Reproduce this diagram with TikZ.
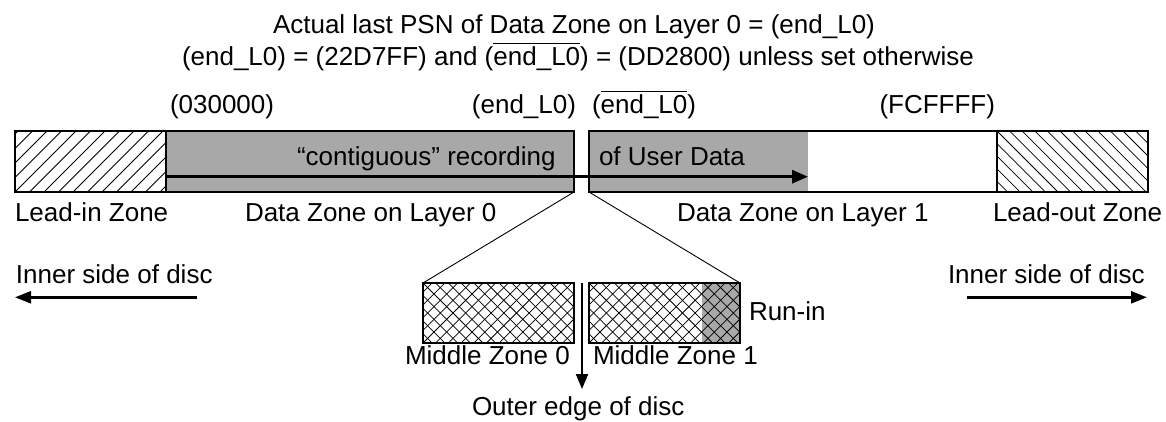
\documentclass[tikz,border=0pt]{standalone}
\usepackage{fontspec}
\setmainfont{Liberation Sans}
\usetikzlibrary{arrows.meta}
\definecolor{zgray}{RGB}{168,168,168}
\newsavebox\ovlbox
\newcommand\ovl[1]{\sbox\ovlbox{#1}\rlap{\rule[0.82em]{\wd\ovlbox}{1.1pt}}\usebox\ovlbox}
\begin{document}
\begin{tikzpicture}[x=1pt,y=-1pt,font=\fontsize{26}{30}\selectfont,
  lbl/.style={inner sep=0pt,outer sep=0pt,anchor=base west},
  lble/.style={inner sep=0pt,outer sep=0pt,anchor=base east},
  zone/.style={draw=black,line width=1.5pt,inner sep=0pt,outer sep=0pt,anchor=north west,minimum height=61pt},
  mzone/.style={draw=black,line width=1.6pt,inner sep=0pt,outer sep=0pt,anchor=north west,minimum height=60pt,minimum width=151pt},
  hatch/.style={line width=0.75pt},
  bigarr/.style={-{Triangle[length=16pt,width=13pt]},line width=3pt},
  arr/.style={-{Triangle[length=16pt,width=12pt]},line width=2.4pt},
  vline/.style={line width=0.9pt}]
\useasboundingbox (0,0) rectangle (1166,421);

% top texts
\node[lbl] (t1) at (273,33) {Actual last PSN of Data Zone on Layer 0 = (end\_L0)};
\node[lbl] (t2) at (182,65.5) {(end\_L0) = (22D7FF) and (\ovl{end\_L0}) = (DD2800) unless set otherwise};

% PSN labels
\node[lbl] (p1) at (170,113) {(030000)};
\node[lble] (p2) at (576,113) {(end\_L0)};
\node[lbl] (p3) at (592,113) {(\ovl{end\_L0})};
\node[lble] (p4) at (995,113) {(FCFFFF)};

% bar fills
\fill[zgray] (589,131) rectangle (807.5,192);
% hatch lead-in
\begin{scope}
  \clip (15,131) rectangle (166,192);
  \foreach \i in {-5,...,12} \draw[hatch] (15+\i*14.5,192) -- (76+\i*14.5,131);
\end{scope}
% hatch lead-out
\begin{scope}
  \clip (997,131) rectangle (1148,192);
  \foreach \i in {-5,...,14} \draw[hatch] (997+\i*12.6,131) -- (1058+\i*12.6,192);
\end{scope}

% zones
\node[zone,minimum width=151pt] (li) at (15,131) {};
\node[zone,minimum width=408pt,fill=zgray] (dz0) at (166,131) {};
\node[zone,minimum width=408pt] (dz1) at (589,131) {};
\node[zone,minimum width=151pt] (lo) at (997,131) {};

% texts in bar
\node[lbl] (c1) at (297,165) {“contiguous” recording};
\node[lbl] (c2) at (599,165) {of User Data};
\coordinate (as) at (166,176.7);
\coordinate (ae) at (808,176.7);
\draw[bigarr] (as) -- (ae);

% zone labels
\node[lbl] (l1) at (15,221) {Lead-in Zone};
\node[lbl] (l2) at (245,221) {Data Zone on Layer 0};
\node[lbl] (l3) at (677,221) {Data Zone on Layer 1};
\node[lbl] (l4) at (993,221) {Lead-out Zone};

% inner side
\node[lbl] (in1) at (16,283) {Inner side of disc};
\node[lbl] (in2) at (948,283) {Inner side of disc};
\coordinate (la) at (197,297.3);
\coordinate (lb) at (15,297.3);
\coordinate (ra) at (967,297.3);
\coordinate (rb) at (1147,297.3);
\draw[arr] (la) -- (lb);
\draw[arr] (ra) -- (rb);

% middle zones
\fill[zgray] (702,283) rectangle (740,343);
\begin{scope}
  \clip (423,283) rectangle (574,343);
  \foreach \i in {-6,...,13} {
    \draw[hatch] (423+\i*12.7,343) -- (483+\i*12.7,283);
    \draw[hatch] (423+\i*12.7,283) -- (483+\i*12.7,343);
  }
\end{scope}
\begin{scope}
  \clip (589,283) rectangle (740,343);
  \foreach \i in {-6,...,13} {
    \draw[hatch] (589+\i*12.7,343) -- (649+\i*12.7,283);
    \draw[hatch] (589+\i*12.7,283) -- (649+\i*12.7,343);
  }
\end{scope}
\node[mzone] (mz0) at (423,283) {};
\node[mzone] (mz1) at (589,283) {};

\draw[vline] (dz0.south east) -- (mz0.north west);
\draw[vline] (dz1.south west) -- (mz1.north east);

\node[lbl] (ri) at (749,320.7) {Run-in};
\node[lbl] (m0) at (405,364) {Middle Zone 0};
\node[lbl] (m1) at (593,364) {Middle Zone 1};
\coordinate (va) at (582,283);
\coordinate (vb) at (582,389);
\draw[-{Triangle[length=15pt,width=12pt]},line width=2pt] (va) -- (vb);
\node[lbl] (oe) at (472,415) {Outer edge of disc};
\end{tikzpicture}
\end{document}
